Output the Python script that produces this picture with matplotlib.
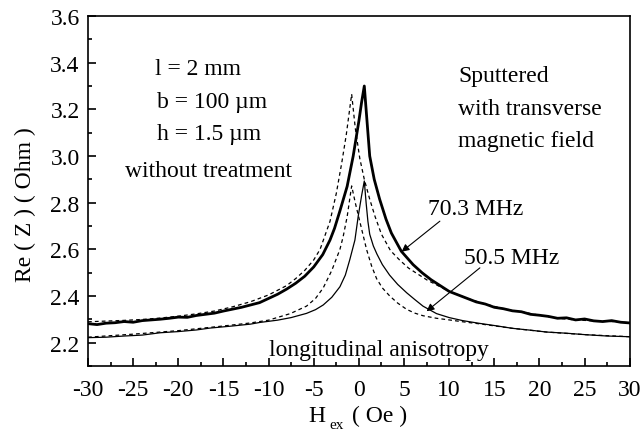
import matplotlib
matplotlib.use("Agg")
import matplotlib.pyplot as plt
from matplotlib.ticker import MultipleLocator

# 70.3 MHz, thick solid
h_703 = [-30, -29, -28, -27, -26, -25, -24, -23, -22, -21, -20, -19, -18, -17, -16, -15, -14, -13,
         -12, -11, -10, -9, -8, -7, -6, -5, -4, -3.2, -2.7, -2.1, -1.3, -0.63, 0, 0.3, 0.6,
         0.9, 1.2, 1.7, 2.3, 3.0, 3.6, 4.7, 6, 7, 8, 9, 10, 11, 12, 13, 14, 15, 16, 17, 18, 19,
         20, 21, 22, 23, 24, 25, 26, 27, 28, 29, 30]
z_703 = [2.282, 2.278, 2.284, 2.286, 2.291, 2.288, 2.295, 2.298, 2.301, 2.305, 2.31, 2.309, 2.317,
         2.322, 2.327, 2.336, 2.344, 2.352, 2.362, 2.372, 2.39, 2.408, 2.43, 2.455, 2.485, 2.525,
         2.578, 2.64, 2.69, 2.765, 2.87, 3.00, 3.15, 3.23, 3.30,
         3.15, 3.00, 2.90, 2.815, 2.73, 2.67, 2.592, 2.535, 2.50, 2.47, 2.445, 2.42, 2.405, 2.39,
         2.375, 2.366, 2.352, 2.346, 2.337, 2.333, 2.322, 2.318, 2.313, 2.305, 2.307, 2.298, 2.302,
         2.294, 2.291, 2.295, 2.288, 2.285]

# 70.3 MHz, dashed
h_703d = [-30, -28, -26, -24, -22, -20, -18, -16, -14, -12, -10, -8, -7, -6, -5, -4.3, -3.2, -2.5,
          -1.9, -1.4, -0.8, -0.4, 0.1, 0.6, 1.2, 1.8, 2.5, 3.5, 4.5, 5.5, 7.5, 9, 10, 12, 14, 16,
          18, 20, 22, 24, 26, 28, 30]
z_703d = [2.29, 2.293, 2.296, 2.30, 2.306, 2.314, 2.324, 2.336, 2.354, 2.376, 2.405, 2.445, 2.475,
          2.51, 2.555, 2.60, 2.72, 2.84, 2.97, 3.09, 3.265, 3.12, 2.99, 2.90, 2.815, 2.74, 2.665,
          2.595, 2.555, 2.52, 2.47, 2.44, 2.42, 2.39, 2.366, 2.346, 2.333, 2.318, 2.305, 2.298, 2.294,
          2.291, 2.286]

# 50.5 MHz, thin solid
h_505 = [-30, -28, -26, -24, -22, -20, -18, -16.5, -14, -12, -11, -9, -7.5, -5.8, -4.8, -3.95,
         -3, -2.1, -1.5, -1.0, -0.44, -0.07, 0.3, 0.6, 0.8, 1.0, 1.2, 1.6, 2.0, 2.6, 3.4, 4.3,
         5.3, 6.2, 7.1, 8.6, 10, 11.5, 13.4, 15, 17, 19, 20.8, 23, 25, 27.5, 30]
z_505 = [2.222, 2.224, 2.229, 2.233, 2.243, 2.248, 2.255, 2.263, 2.272, 2.28, 2.287, 2.297, 2.308,
         2.326, 2.342, 2.362, 2.395, 2.44, 2.49, 2.557, 2.64, 2.743, 2.83, 2.893, 2.80, 2.72,
         2.665, 2.615, 2.58, 2.535, 2.49, 2.45, 2.414, 2.385, 2.357, 2.325, 2.308, 2.295, 2.283,
         2.274, 2.262, 2.254, 2.246, 2.241, 2.235, 2.229, 2.226]

# 50.5 MHz, dashed
h_505d = [-30, -25, -20, -15, -12, -10, -7.6, -5.8, -4.8, -3.95, -3, -2.1, -1.74, -1.3, -0.8,
          -0.4, 0.1, 0.85, 1.4, 1.96, 2.6, 3.43, 4.3, 5.3, 6.2, 7.1, 8.6, 10, 11.5, 13.4, 17,
          20.8, 25, 30]
z_505d = [2.224, 2.237, 2.252, 2.272, 2.285, 2.297, 2.325, 2.357, 2.39, 2.435, 2.51, 2.60, 2.655,
          2.74, 2.872, 2.80, 2.72, 2.60, 2.53, 2.475, 2.435, 2.40, 2.37, 2.343, 2.327, 2.316, 2.305,
          2.298, 2.29, 2.281, 2.262, 2.246, 2.235, 2.226]

plt.rcParams['font.family'] = ['Liberation Serif', 'DejaVu Serif']

fig = plt.figure(figsize=(6.4, 4.35), dpi=100)
ax = fig.add_axes([0.1375, 0.156, 0.8465, 0.805])

dash = (0, (3, 2.5))
ax.plot(h_703d, z_703d, color='black', lw=0.9, linestyle=dash)
ax.plot(h_505d, z_505d, color='black', lw=0.9, linestyle=dash)
ax.plot(h_505, z_505, color='black', lw=0.9)
ax.plot(h_703, z_703, color='black', lw=2.0)

ax.set_xlim(-30, 30)
ax.set_ylim(2.1, 3.6)
ax.xaxis.set_minor_locator(MultipleLocator(2.5))
ax.yaxis.set_minor_locator(MultipleLocator(0.1))
ax.set_xticks(range(-30, 31, 5))
ax.set_xticklabels([str(v) for v in range(-30, 31, 5)])
ax.set_yticks([2.2, 2.4, 2.6, 2.8, 3.0, 3.2, 3.4, 3.6])
ax.set_yticklabels(['2.2', '2.4', '2.6', '2.8', '3.0', '3.2', '3.4', '3.6'])
ax.tick_params(which='both', direction='in', top=False, right=False, labelsize=17, width=1.2)
ax.tick_params(which='major', length=6)
ax.tick_params(which='minor', length=3)
ax.tick_params(axis='x', pad=9)
ax.tick_params(axis='y', pad=6)
for s in ax.spines.values():
    s.set_linewidth(1.2)

# axis labels
fig.text(25 / 640, 1 - 205 / 435, 'Re ( Z ) ( Ohm )', rotation=90, fontsize=17,
         ha='center', va='center')
fig.text(308 / 640, 1 - 422 / 435, 'H', fontsize=17, ha='left', va='baseline')
fig.text(329 / 640, 1 - 429 / 435, 'ex', fontsize=11, ha='left', va='baseline')
fig.text(352 / 640, 1 - 422 / 435, '( Oe )', fontsize=17, ha='left', va='baseline')

ax.text(-22.6, 3.351, 'l = 2 mm', fontsize=17, va='baseline')
ax.text(-22.4, 3.208, 'b = 100 \u00b5m', fontsize=17, va='baseline')
ax.text(-22.4, 3.072, 'h = 1.5 \u00b5m', fontsize=17, va='baseline')
ax.text(-25.9, 2.915, 'without treatment', fontsize=17, va='baseline')
ax.text(11.0, 3.322, 'Sputtered', fontsize=17, va='baseline')
ax.text(11.0, 3.179, 'with transverse', fontsize=17, va='baseline')
ax.text(11.0, 3.043, 'magnetic field', fontsize=17, va='baseline')
ax.text(-10.0, 2.149, 'longitudinal anisotropy', fontsize=17, va='baseline')

ax.text(7.6, 2.752, '70.3 MHz', fontsize=17, va='baseline')
ax.text(11.6, 2.543, '50.5 MHz', fontsize=17, va='baseline')
arrow = dict(arrowstyle='-|>', color='black', lw=0.8, mutation_scale=11, shrinkA=0, shrinkB=0)
ax.annotate('', xy=(4.73, 2.59), xytext=(8.97, 2.721), arrowprops=arrow)
ax.annotate('', xy=(7.5, 2.335), xytext=(13.4, 2.521), arrowprops=arrow)

fig.savefig('out.png', dpi=100)
